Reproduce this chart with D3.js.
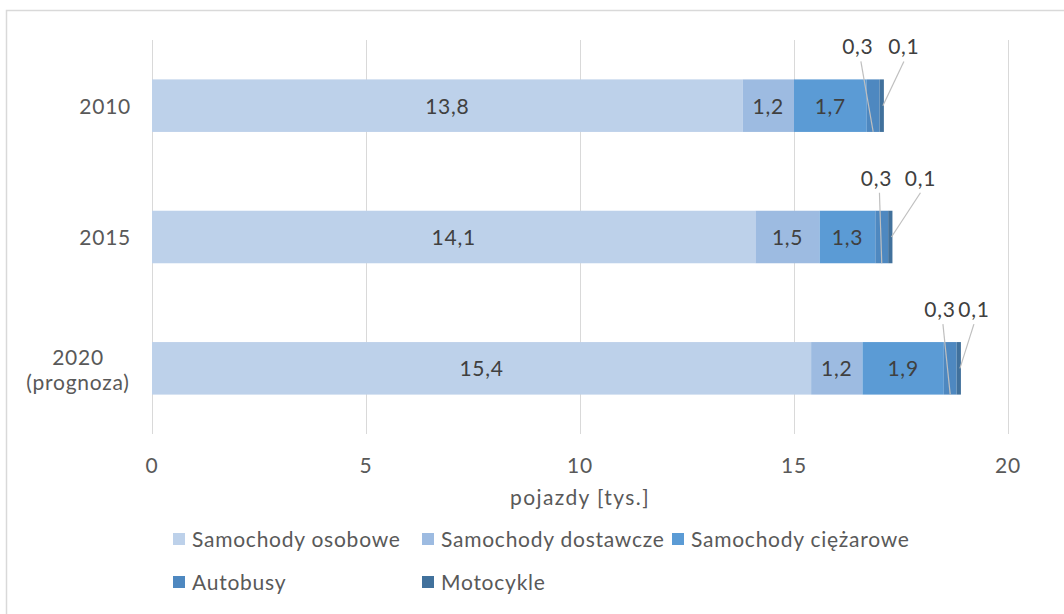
<!DOCTYPE html>
<html><head><meta charset="utf-8">
<script src="https://cdn.jsdelivr.net/npm/d3@7"></script>
<style>
html,body{margin:0;padding:0;background:#fff;}
text{font-family:Lato,"Open Sans",sans-serif;fill:#595959;letter-spacing:0.75px;}
</style></head>
<body><svg id="c" width="1064" height="614"></svg>
<script>
const categories = ["2010", "2015", "2020 (prognoza)"];
const seriesNames = ["Samochody osobowe", "Samochody dostawcze", "Samochody ciężarowe", "Autobusy", "Motocykle"];
const osobowe    = [13.8, 14.1, 15.4];
const dostawcze  = [1.2, 1.5, 1.2];
const ciezarowe  = [1.7, 1.3, 1.9];
const autobusy   = [0.3, 0.3, 0.3];
const motocykle  = [0.1, 0.1, 0.1];
const xTicks = [0, 5, 10, 15, 20];
const colors = ["#bdd1ea", "#9dbbe1", "#5b9bd5", "#4e88c0", "#41719c"];
// layout-only: callout label horizontal offsets from bar end [0,3 label, 0,1 label]
const calloutDx = [[-26, 20], [-16, 28], [-21, 13]];

const FS = 21;
const series = [osobowe, dostawcze, ciezarowe, autobusy, motocykle];
const rows = categories.map((c, i) => {
  const r = {cat: c};
  seriesNames.forEach((s, j) => r[s] = series[j][i]);
  return r;
});
const stacked = d3.stack().keys(seriesNames)(rows);

const svg = d3.select("#c");
svg.append("rect").attr("x", 6.5).attr("y", 10.5).attr("width", 1070).attr("height", 620)
  .attr("fill", "#fff").attr("stroke", "#d9d9d9").attr("stroke-width", 1.5);

const x = d3.scaleLinear().domain([0, 20]).range([152, 1008]);
const y = d3.scaleBand().domain(categories).range([40, 434]).paddingInner(0.6).paddingOuter(0.3);

// gridlines
svg.append("g").selectAll("line").data(xTicks).join("line")
  .attr("x1", d => x(d) + 0.5).attr("x2", d => x(d) + 0.5)
  .attr("y1", 40).attr("y2", 434).attr("stroke", "#d9d9d9").attr("stroke-width", 1);

// tick labels
svg.append("g").selectAll("text").data(xTicks).join("text")
  .attr("x", d => x(d)).attr("y", 473).attr("text-anchor", "middle")
  .attr("font-size", FS).text(d => d);

svg.append("text").attr("x", x(10)).attr("y", 505).attr("text-anchor", "middle")
  .attr("font-size", FS).style("letter-spacing", "1.4px").text("pojazdy [tys.]");

// category labels
const catG = svg.append("g");
categories.forEach(c => {
  const cy = y(c) + y.bandwidth() / 2;
  const parts = c.split(" ");
  const t = catG.append("text").attr("font-size", FS);
  if (parts.length === 1) {
    t.attr("text-anchor", "end").attr("x", 131).attr("y", cy + 8).text(c);
  } else {
    t.attr("text-anchor", "middle");
    t.append("tspan").attr("x", 78).attr("y", cy - 3).text(parts[0]);
    t.append("tspan").attr("x", 78).attr("y", cy + 22).text(parts[1]);
  }
});

// bars
const fmt = v => d3.format(".1f")(v).replace(".", ",");
stacked.forEach((layer, j) => {
  const g = svg.append("g");
  g.selectAll("rect").data(layer).join("rect")
    .attr("x", d => x(d[0])).attr("width", d => x(d[1]) - x(d[0]))
    .attr("y", d => y(d.data.cat)).attr("height", y.bandwidth())
    .attr("fill", colors[j]);
  if (j < 3) {
    g.selectAll("text").data(layer).join("text")
      .attr("x", d => (x(d[0]) + x(d[1])) / 2)
      .attr("y", d => y(d.data.cat) + y.bandwidth() / 2 + 8)
      .attr("text-anchor", "middle").attr("font-size", FS)
      .style("fill", "#404040")
      .text(d => fmt(d[1] - d[0]));
  }
});

// callouts for small segments
const layA = stacked[3], layM = stacked[4];
categories.forEach((c, i) => {
  const top = y(c), bot = y(c) + y.bandwidth(), mid = top + y.bandwidth() / 2;
  const end = x(layM[i][1]);
  const lx3 = end + calloutDx[i][0], lx1 = end + calloutDx[i][1];
  const ly = top - 25;
  svg.append("line").attr("x1", lx3 + 3).attr("y1", ly + 7)
    .attr("x2", (x(layA[i][0]) + x(layA[i][1])) / 2).attr("y2", bot)
    .attr("stroke", "#bfbfbf").attr("stroke-width", 1.2);
  svg.append("line").attr("x1", lx1).attr("y1", ly + 7)
    .attr("x2", end - 1).attr("y2", mid)
    .attr("stroke", "#bfbfbf").attr("stroke-width", 1.2);
  svg.append("text").attr("x", lx3).attr("y", ly).attr("text-anchor", "middle")
    .attr("font-size", FS).style("fill", "#404040").text(fmt(autobusy[i]));
  svg.append("text").attr("x", lx1).attr("y", ly).attr("text-anchor", "middle")
    .attr("font-size", FS).style("fill", "#404040").text(fmt(motocykle[i]));
});

// legend
const legendPos = [[173, 540], [422, 540], [672, 540], [173, 583], [422, 583]];
seriesNames.forEach((s, j) => {
  const [lx, ly] = legendPos[j];
  svg.append("rect").attr("x", lx).attr("y", ly - 7).attr("width", 12).attr("height", 12).attr("fill", colors[j]);
  svg.append("text").attr("x", lx + 19).attr("y", ly + 7).attr("font-size", FS).text(s);
});
</script></body></html>
